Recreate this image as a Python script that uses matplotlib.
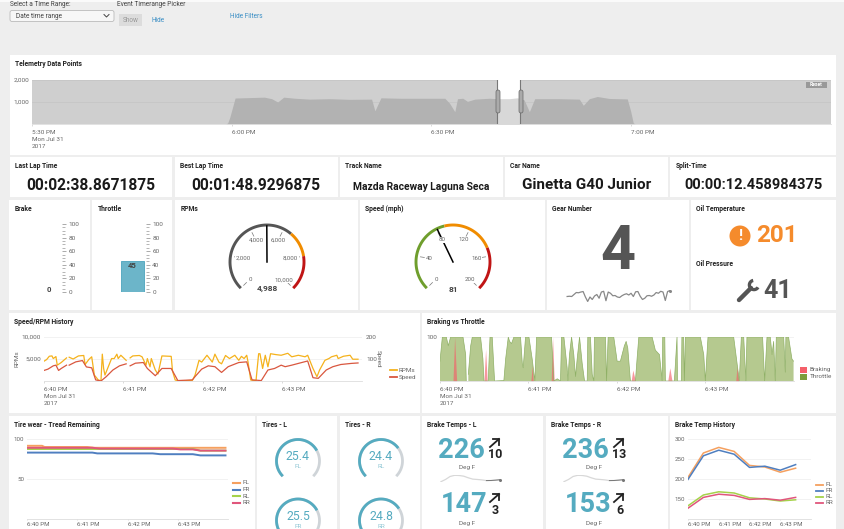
import numpy as np
import matplotlib
matplotlib.use('Agg')
import matplotlib.pyplot as plt
from matplotlib.patches import Rectangle, FancyBboxPatch, Circle

# Constants
W, H = 845, 529
BG = '#eeeeee'
TEAL = '#55abc0'
GREY_TXT = '#666666'
plt.rcParams['font.family'] = ['Roboto', 'DejaVu Sans']

# Telemetry data points (minutes after 5:30 PM)
tele_min = [0, 29.1, 29.4, 29.7, 30.5, 32.7, 34.9, 36, 36.9, 37.8, 39.5, 41.7, 44.7, 47.7, 51, 51.5, 52.4,
            55.2, 59, 60, 62, 62.7, 63.5, 63.9, 64.7, 65.4, 66.5, 68.7, 69.9, 71.7, 72.9, 73.9, 74.7, 75.5,
            79.2, 82.2, 82.8, 83.7, 84.9, 86.7, 89.4, 89.9, 90.3, 90.6, 120]
tele_val = [0, 0, 50, 300, 1180, 1200, 1220, 1150, 1000, 1220, 1170, 1130, 1150, 1120, 1130, 600, 1190,
            1170, 1170, 1170, 1170, 950, 560, 1150, 1170, 1030, 1130, 1170, 1150, 1150, 1190, 1100, 560, 1150,
            1150, 1130, 850, 1150, 1250, 1160, 1140, 600, 50, 0, 0]

# Speed / RPM history (seconds after 6:40 PM, nan marks the gaps)
rpm_sec = [0, 2, 4, 6, 7, 9, 10, 13, 17, 18, 19, 22, 26, 30, 31, 34, 36, 38, 41, 43, 44, 45, 46, 48, 51, 53, 55,
           56, 58, 62, 63, 65, 67, 72, 74, 77, 78, 80, 81, 84, 86, 89, 96, 97, 99, 102, 112, 114, 117, 119, 123,
           127, 129, 132, 134, 137, 140, 144, 147, 149, 151, 153, 154, 156, 160, 162, 163, 165, 167, 169, 171,
           175, 179, 184, 187, 192, 197, 199, 203, 206, 208, 212, 215, 217, 221, 222, 226, 231, 233, 237]
rpm_val = [4500, 4875, 5625, 5700, 5100, 5550, 3600, 4200, 5250, np.nan, 5400, 5000, 5700, 5800, 3750, 4950, 5500,
           1350, 225, 75, 6100, 2850, 1350, 2850, 5100, 5100, 6100, 5100, 5850, 4700, np.nan, 5250, 5700, 5800,
           5500, 3600, 5100, 3225, 5100, 2500, 1575, 5700, 5600, 2250, 225, 0, 150, 1350, 4700, 4300, 5850, 4300,
           6100, 4300, 3900, 5800, 5100, 5850, 4700, 5600, 5100, 5850, 4300, 225, 75, 6200, 6200, 2850, 5850, 3225,
           6200, 6000, 5850, 6300, 5500, 5850, 5500, 5850, 2850, 975, 2500, 4700, 5100, 5500, 5850, 5100, 5625,
           5850, 4950, 4950]
speed_sec = [0, 3, 7, 9, 11, 13, 17, 18, 19, 24, 29, 32, 36, 39, 43, 47, 52, 57, 62, 63, 65, 69, 75, 78, 84, 89, 96,
             101, 112, 114, 119, 124, 129, 134, 139, 147, 153, 157, 164, 169, 174, 179, 182, 187, 192, 199, 203,
             207, 213, 218, 224, 232, 237]
speed_val = [48, 54, 69, 72, 48, 57, 72, np.nan, 72, 87, 93, 64, 60, 5, 0, 20, 50, 69, 78, np.nan, 69, 81, 84, 57,
             24, 57, 57, 2, 5, 20, 54, 69, 65, 39, 65, 84, 87, 5, 2, 50, 57, 72, 65, 72, 80, 91, 15, 12, 50, 65,
             75, 80, 82]

# Braking vs throttle (seconds after 6:40 PM, nan marks the gaps)
thr_sec = [0, 1.6, 4.3, 5.6, 7.2, 11, 15.6, 17.4, 17.8, 18, 19.2, 20.8, 21.9, 27.5, 29.1, 29.8, 32.7, 33.9, 35.4, 37,
           43.3, 44.5, 46.3, 47.2, 48.5, 50.1, 54.6, 55.8, 56.4, 58, 60.3, 62.5, 64.3, 65.5, 75.6, 77.2, 79.5, 81.7,
           82.4, 84, 86.2, 86.7, 87.8, 89.2, 90.7, 91.9, 93, 94.6, 96.4, 98, 99.8, 100.2, 102, 103.2, 104.3, 104.7,
           112.2, 112.9, 114, 117.8, 120.1, 122.3, 125, 126.2, 127.3, 129.1, 132.5, 133.6, 134.8, 143.8, 146, 148.8,
           150.6, 151, 152.4, 152.8, 158.5, 158.9, 160.7, 161, 163.7, 164, 165.2, 165.7, 166.4, 176.5, 178.8, 179.9,
           181.7, 199.1, 201.4, 202.9, 204.3, 205.9, 207.4, 208.1, 218.7, 220.1, 221.7, 223.9, 225.1, 226.2, 227.3,
           228, 233, 234.1, 234.5, 236.3, 238.6, 239.7]
thr_val = [45, 100, 100, 80, 100, 100, 100, 60, 0, np.nan, 15, 80, 100, 100, 50, 0, 0, 100, 100, 0,
           1, 50, 100, 90, 85, 100, 100, 40, 30, 100, 100, 50, 0, 100, 100, 0, 5, 0,
           100, 100, 30, 0, 60, 100, 60, 10, 50, 100, 40, 0, 0, 100, 100, 15, 0, 100,
           100, 0, 100, 100, 45, 45, 80, 90, 75, 0, 0, 50, 100, 100, 70, 60,
           0, 100, 100, 0, 0, 0, 100, 0, 0, 100, 100, 0, 100, 100, 60, 0,
           100, 100, 40, 0, 100, 100, 0, 100, 100, 0, 100, 100, 60, 90, 0,
           100, 100, 20, 100, 100, 50, 45]
brk_sec = [8.8, 9.9, 11.3, 29.8, 30.9, 32, 61.6, 62.5, 63.2, 75.4, 76.3, 77.4,
           129.6, 130.7, 132.5, 154.4, 155.8, 157.3, 200.5, 201.4, 202.5]
brk_val = [0, 100, 0, 0, 72, 0, 0, 35, 0, 0, 100, 0, 0, 25, 0, 0, 30, 0, 0, 35, 0]

# Tire wear (minutes after 6:40 PM)
fl_min = [0, 0.3, 0.35, 1.2, 1.35, 2.6, 3.95]
fl_val = [91.5, 91.5, 90, 90, 89, 89, 89]
fr_min = [0, 1.3, 1.4, 2.5, 2.65, 3.3, 3.45, 3.95]
fr_val = [83, 83, 82, 82, 81, 81, 79.5, 79.5]
rl_min = [0, 3.3, 3.45, 3.95]
rl_val = [87.5, 87.5, 85.5, 85.5]
rr_min = [0, 1.3, 1.45, 2.9, 3.05, 3.3, 3.45, 3.95]
rr_val = [89, 89, 88, 88, 87, 87, 85.5, 85.5]
TIRE_COLORS = ['#f5a05f', '#4f7fc0', '#a5d24a', '#e0567c']
TIRE_NAMES = ['FL', 'FR', 'RL', 'RR']

# Brake temp history (half minute steps after 6:40 PM)
temp_min = [0, 0.5, 1, 1.5, 2, 2.5, 3, 3.5]
temp_fl = [204, 265, 279, 269, 234, 230, 217, 227]
temp_fr = [199, 258, 272, 262, 229, 232, 222, 236]
temp_rl = [133, 160, 168, 165, 153, 150, 145, 148]
temp_rr = [127, 154, 162, 159, 149, 151, 147, 154]

# Sparklines
gear_spark = [3.2, 3.3, 3.2, 4, 4.8, 4.7, 5, 5.2, 3, 1.2, 3, 2, 3.4, 4, 2.5, 5, 5.3, 1.5, 5, 4.5, 3.5, 3.6, 3, 2.8,
              3.5, 4, 4.3, 3.8, 4.5, 3.2, 5.1, 5.2, 3.3, 2, 2.5, 3.5, 3.6, 3.3, 3.8, 4.8, 4.5, 5.3, 5, 1.6, 5.2, 5.6]
brake_spark = [204, 230, 265, 279, 277, 269, 250, 234, 230, 225, 217, 218, 222, 227]

# Single values
brake_value = 0
throttle_value = 45
rpm_value = 4988
speed_value = 81
gear_value = 4
oil_temp = 201
oil_pressure = 41
tire_values = [25.4, 25.5, 24.4, 24.8]
tire_labels = ['FL', 'FR', 'RL', 'RR']
brake_l = [226, 147]
brake_l_delta = [10, 3]
brake_r = [236, 153]
brake_r_delta = [13, 6]

# Panels as (left, top, right, bottom, title)
PANELS = [
    (10, 55, 836, 155, 'Telemetry Data Points'),
    (10, 157, 172, 197, 'Last Lap Time'), (175, 157, 338, 197, 'Best Lap Time'),
    (340, 157, 503, 197, 'Track Name'), (505, 157, 668, 197, 'Car Name'), (670, 157, 836, 197, 'Split-Time'),
    (9, 200, 90, 310, 'Brake'), (92, 200, 172, 310, 'Throttle'), (175, 200, 358, 310, 'RPMs'),
    (360, 200, 545, 310, 'Speed (mph)'), (547, 200, 689, 310, 'Gear Number'), (691, 200, 836, 310, 'Oil Temperature'),
    (9, 313, 420, 413, 'Speed/RPM History'), (422, 313, 836, 413, 'Braking vs Throttle'),
    (9, 416, 255, 529, 'Tire wear - Tread Remaining'), (257, 416, 337, 529, 'Tires - L'),
    (340, 416, 420, 529, 'Tires - R'), (422, 416, 543, 529, 'Brake Temps - L'),
    (546, 416, 668, 529, 'Brake Temps - R'), (670, 416, 836, 529, 'Brake Temp History'),
]


def px_axes(fig, left, top, right, bottom, **kw):
    # axes placed by pixel box, y measured from the top of the picture
    ax = fig.add_axes([left / W, 1 - bottom / H, (right - left) / W, (bottom - top) / H], **kw)
    ax.patch.set_alpha(0)
    for s in ax.spines.values():
        s.set_visible(False)
    return ax


def style_time_axis(ax, ticks, labels, size=4.6):
    ax.set_xticks(ticks, labels, ha='left', linespacing=1.45)
    ax.tick_params(axis='x', length=1.5, width=0.5, color='#cccccc', labelsize=size, labelcolor=GREY_TXT, pad=3)
    ax.tick_params(axis='y', length=0, labelsize=size, labelcolor=GREY_TXT, pad=2)
    ax.spines['bottom'].set_visible(True)
    ax.spines['bottom'].set_color('#dddddd')
    ax.spines['bottom'].set_linewidth(0.6)
    ax.grid(axis='y', color='#f2f2f2', lw=0.7)
    ax.set_axisbelow(True)


def arc(ax, cx, cy, r, a0, a1, **kw):
    t = np.radians(np.linspace(a0, a1, 60))
    ax.plot(cx + r * np.cos(t), cy - r * np.sin(t), solid_capstyle='butt', **kw)


def draw_gauge(ax, cx, cy, vmax, bands, ticks, value, label_fmt='{:,}'):
    angle = lambda v: 225 - 270 * v / vmax
    r = 37
    for lo, hi, col in bands:
        arc(ax, cx, cy, r, angle(lo), angle(hi), color=col, lw=2.1)
    for t in ticks:
        a = np.radians(angle(t))
        ax.plot([cx + 29 * np.cos(a), cx + 33 * np.cos(a)], [cy - 29 * np.sin(a), cy - 33 * np.sin(a)],
                color='#777777', lw=0.5)
        ax.text(cx + 24 * np.cos(a), cy - 25 * np.sin(a), label_fmt.format(t), fontsize=4.4, color=GREY_TXT,
                ha='center', va='center', bbox=dict(fc='white', ec='none', pad=0.3))
    a = np.radians(angle(value))
    ax.plot([cx, cx + 36 * np.cos(a)], [cy, cy - 36 * np.sin(a)], color='black', lw=1.1)
    ax.text(cx, cy + 27, f'{value:,}', fontsize=6, fontweight='bold', color='#444444', ha='center', va='center')


def draw_tire(ax, cx, cy, value, label):
    r = 21.5
    arc(ax, cx, cy, r, 225, -45, color='#cfd4d8', lw=2)
    arc(ax, cx, cy, r, 225, 225 - 270 * value / 35, color=TEAL, lw=2)
    ax.text(cx, cy - 4, f'{value}', fontsize=8.8, color=TEAL, ha='center', va='center')
    ax.text(cx, cy + 6, label, fontsize=4.6, color='#8fc6d4', ha='center', va='center')


def draw_brake_value(ax, cx, cy, value, delta, arrow_x, deg_x):
    ax.text(cx, cy + 1, f'{value}', fontsize=19.5, fontweight='bold', color=TEAL, ha='center', va='center')
    ax.plot([arrow_x - 5, arrow_x + 4], [cy - 2, cy - 10], color='#222222', lw=1.3)
    ax.plot([arrow_x - 2, arrow_x + 4, arrow_x + 4], [cy - 10, cy - 10, cy - 4], color='#222222', lw=1.3)
    ax.text(arrow_x + 0.5, cy + 6, f'{delta}', fontsize=9, fontweight='bold', color='#222222', ha='center',
            va='center')
    ax.text(deg_x, cy + 19, 'Deg F', fontsize=4.6, color=GREY_TXT, ha='center', va='center')


def draw_legend(ax, x0, x1, xt, ys, names, colors, lw=1.3):
    for y, name, col in zip(ys, names, colors):
        ax.plot([x0, x1], [y, y], color=col, lw=lw)
        ax.text(xt, y, name, fontsize=4.6, color=GREY_TXT, va='center')


def main():
    fig = plt.figure(figsize=(W / 100, H / 100), dpi=100, facecolor=BG)

    # background panels
    bg = px_axes(fig, 0, 0, W, H, zorder=0)
    bg.set_xlim(0, W)
    bg.set_ylim(H, 0)
    bg.axis('off')
    bg.add_patch(Rectangle((0, 0), W, 2, fc='#fafafa', ec='none'))
    for left, top, right, bottom, _ in PANELS:
        bg.add_patch(Rectangle((left, top), right - left, bottom - top, fc='white', ec='none'))

    # overlay for text and icons
    fg = px_axes(fig, 0, 0, W, H, zorder=10)
    fg.set_xlim(0, W)
    fg.set_ylim(H, 0)
    fg.axis('off')
    for left, top, right, bottom, title in PANELS:
        fg.text(left + 5.5, top + 9, title, fontsize=4.9, fontweight='bold', color='#222222', va='center')

    # filters
    fg.text(10, 4, 'Select a Time Range:', fontsize=4.7, color='#444444', va='center')
    fg.text(117, 4, 'Event Timerange Picker', fontsize=4.7, color='#444444', va='center')
    fg.add_patch(FancyBboxPatch((10, 10.5), 104, 11, boxstyle='round,pad=0,rounding_size=2', fc='#f7f7f7',
                                ec='#bbbbbb', lw=0.6))
    fg.text(16, 16, 'Date time range', fontsize=4.7, color='#444444', va='center')
    fg.plot([104, 106.5, 109], [14.5, 17, 14.5], color='#444444', lw=0.7)
    fg.add_patch(Rectangle((119, 14), 23, 12, fc='#dcdcdc', ec='none'))
    fg.text(130.5, 20, 'Show', fontsize=4.7, color='#999999', ha='center', va='center')
    fg.text(152, 20, 'Hide', fontsize=4.7, color='#3c8fc5', va='center')
    fg.text(230, 16, 'Hide Filters', fontsize=4.7, color='#3c8fc5', va='center')

    # telemetry overview
    ax = px_axes(fig, 32, 80, 831, 124, zorder=5)
    ax.patch.set_alpha(1)
    ax.set_facecolor('#cfcfcf')
    ax.fill_between(tele_min, tele_val, color='#b2b2b2', lw=0)
    ax.set_xlim(0, 120)
    ax.set_ylim(0, 2000)
    span = ax.axvspan(69.9, 73.3, color='white', zorder=3, lw=0)
    selected = ax.fill_between(tele_min, tele_val, color='#d8d8d8', lw=0, zorder=4)
    selected.set_clip_path(span)
    style_time_axis(ax, [0, 30, 60, 90], ['5:30 PM\nMon Jul 31\n2017', '6:00 PM', '6:30 PM', '7:00 PM'])
    ax.set_yticks([1000, 2000], ['1,000', '2,000'])
    ax.grid(axis='y', color='#c4c4c4', lw=0.5)
    for x in [69.9, 73.3]:
        ax.axvline(x, color='#777777', lw=0.8, zorder=5)
    for x in [498, 521]:
        fg.add_patch(FancyBboxPatch((x - 2, 90), 4, 23, boxstyle='round,pad=0,rounding_size=2', fc='#aaaaaa',
                                    ec='#666666', lw=0.5))
    fg.add_patch(Rectangle((806, 82), 21, 6, fc='#999999', ec='none'))
    fg.text(816.5, 85, 'Reset', fontsize=3.6, color='white', fontweight='bold', ha='center', va='center')

    # big text row
    for x, y, txt, size in [(90.5, 185, '00:02:38.8671875', 11.2), (256, 185, '00:01:48.9296875', 11.2),
                            (421.5, 187, 'Mazda Raceway Laguna Seca', 7.4), (587, 185, 'Ginetta G40 Junior', 11),
                            (753.5, 185, '00:00:12.458984375', 10.5)]:
        fg.text(x, y, txt, fontsize=size, fontweight='bold', color='#1a1a1a', ha='center', va='center')

    # brake and throttle columns
    for left, value in [(37.6, brake_value), (121, throttle_value)]:
        ax = px_axes(fig, left, 224, left + 24.7, 292, zorder=5)
        ax.bar([0], [value], width=1, color='#6cb5c9', edgecolor='#4ba4bd', lw=0.6)
        ax.set_xlim(-0.5, 0.57)
        ax.set_ylim(0, 100)
        ax.set_xticks([])
        ax.yaxis.tick_right()
        ax.set_yticks(range(0, 101, 20))
        ax.set_yticks(range(0, 101, 5), minor=True)
        ax.tick_params(axis='y', which='major', length=3.2, width=0.5, color='#888888', labelsize=4.6,
                       labelcolor=GREY_TXT, pad=1.5)
        ax.tick_params(axis='y', which='minor', length=1.8, width=0.6, color='#aaaaaa')
        ax.text(0, value - 1, f'{value}', fontsize=5.6, fontweight='bold', color='#444444', ha='center',
                va='top' if value else 'bottom')

    # gauges
    draw_gauge(fg, 267, 262, 10000, [(0, 6500, '#555555'), (6500, 8000, '#f08c00'), (8000, 10000, '#c01515')],
               [0, 2000, 4000, 6000, 8000, 10000], rpm_value)
    draw_gauge(fg, 453, 262, 200, [(0, 90, '#6f9e2d'), (90, 150, '#f08c00'), (150, 200, '#c01515')],
               [0, 40, 80, 120, 160, 200], speed_value)

    # gear number with its sparkline
    fg.text(618, 252, f'{gear_value}', fontsize=44, fontweight='bold', color='#555555', ha='center', va='center')
    ax = px_axes(fig, 562, 290, 675, 302, zorder=5)
    ax.plot(gear_spark, color='#888888', lw=0.9)
    ax.plot(len(gear_spark) - 1, gear_spark[-1], 'o', color='#888888', ms=1.2)
    ax.set_xticks([])
    ax.set_yticks([])

    # oil
    fg.text(696.5, 264, 'Oil Pressure', fontsize=4.9, fontweight='bold', color='#222222', va='center')
    fg.add_patch(Circle((740, 236), 10.5, fc='#f58b2c', ec='none'))
    fg.text(740, 236, '!', fontsize=11, fontweight='bold', color='white', ha='center', va='center')
    fg.text(756, 236, f'{oil_temp}', fontsize=17.5, fontweight='bold', color='#f58b2c', va='center')
    fg.plot([739, 751], [300, 288], color='#555555', lw=3.2, solid_capstyle='round')
    arc(fg, 754, 285, 4.6, 100, 330, color='#555555', lw=2.4)
    fg.text(763, 291, f'{oil_pressure}', fontsize=18, fontweight='bold', color='#555555', va='center')

    # speed / rpm history
    ax = px_axes(fig, 44, 337, 362, 381, zorder=5)
    ax.plot(rpm_sec, rpm_val, color='#f5b21c', lw=0.9)
    ax.set_xlim(0, 240)
    ax.set_ylim(0, 10000)
    style_time_axis(ax, [0, 60, 120, 180], ['6:40 PM\nMon Jul 31\n2017', '6:41 PM', '6:42 PM', '6:43 PM'])
    ax.set_yticks([5000, 10000], ['5,000', '10,000'])
    ax.set_ylabel('RPMs', fontsize=4.6, color=GREY_TXT)
    ax.yaxis.set_label_coords(-0.078, 0.5)
    ax2 = ax.twinx()
    ax2.patch.set_alpha(0)
    for s in ax2.spines.values():
        s.set_visible(False)
    ax2.plot(speed_sec, speed_val, color='#d9573f', lw=0.9)
    ax2.set_ylim(0, 200)
    ax2.set_yticks([100, 200])
    ax2.tick_params(axis='y', length=0, labelsize=4.6, labelcolor=GREY_TXT, pad=3)
    ax2.set_ylabel('Speed', fontsize=4.6, color=GREY_TXT, rotation=270, labelpad=3)
    draw_legend(fg, 390, 397, 399, [370, 377], ['RPMs', 'Speed'], ['#f5b21c', '#d9573f'])

    # braking vs throttle
    ax = px_axes(fig, 440, 337, 794, 381, zorder=5)
    thr = np.array(thr_val, dtype=float)
    ax.fill_between(thr_sec, thr, color='#b5c98f', lw=0)
    ax.plot(thr_sec, thr, color='#8fb066', lw=0.5)
    ax.fill_between(brk_sec, brk_val, color='#f4606a', alpha=0.65, lw=0)
    ax.set_xlim(0, 240)
    ax.set_ylim(0, 100)
    style_time_axis(ax, [0, 60, 120, 180], ['6:40 PM\nMon Jul 31\n2017', '6:41 PM', '6:42 PM', '6:43 PM'])
    ax.set_yticks([100], ['100'])
    for y, name, col in [(370, 'Braking', '#f4606a'), (377, 'Throttle', '#7d9e3c')]:
        fg.add_patch(Rectangle((800, y - 3), 7, 6, fc=col, ec='none'))
        fg.text(810, y, name, fontsize=4.6, color=GREY_TXT, va='center')

    # tire wear
    ax = px_axes(fig, 27, 439, 228, 519, zorder=5)
    tire_series = [(fl_min, fl_val), (fr_min, fr_val), (rl_min, rl_val), (rr_min, rr_val)]
    for (xs, ys), col in zip(tire_series, TIRE_COLORS):
        ax.plot(xs, ys, color=col, lw=1.4)
    ax.set_xlim(0, 4)
    ax.set_ylim(0, 100)
    style_time_axis(ax, [0, 1, 2, 3], ['6:40 PM', '6:41 PM', '6:42 PM', '6:43 PM'], size=4.4)
    ax.tick_params(axis='x', length=1, pad=1.5)
    ax.set_yticks([50, 100])
    draw_legend(fg, 233, 240, 243, [483, 489.7, 496.4, 503], TIRE_NAMES, TIRE_COLORS, lw=1.5)

    # tire gauges
    draw_tire(fg, 298, 461, tire_values[0], tire_labels[0])
    draw_tire(fg, 298, 520.5, tire_values[1], tire_labels[1])
    draw_tire(fg, 381, 461, tire_values[2], tire_labels[2])
    draw_tire(fg, 381, 520.5, tire_values[3], tire_labels[3])

    # brake temps
    draw_brake_value(fg, 461, 449, brake_l[0], brake_l_delta[0], 495, 467)
    draw_brake_value(fg, 464, 504, brake_l[1], brake_l_delta[1], 495, 467)
    draw_brake_value(fg, 585, 449, brake_r[0], brake_r_delta[0], 619, 594)
    draw_brake_value(fg, 588, 504, brake_r[1], brake_r_delta[1], 619, 594)
    for left in [438, 561]:
        ax = px_axes(fig, left, 475, left + 65, 482, zorder=5)
        ax.plot(range(len(brake_spark)), brake_spark, color='#d8d8d8', lw=0.9)
        ax.plot(range(10, len(brake_spark)), brake_spark[10:], color='#777777', lw=0.7)
        ax.plot(len(brake_spark) - 1, brake_spark[-1], 'o', color='#777777', ms=1.2)
        ax.set_xticks([])
        ax.set_yticks([])

    # brake temp history
    ax = px_axes(fig, 688, 439, 811, 519, zorder=5)
    for ys, col in zip([temp_fl, temp_fr, temp_rl, temp_rr], TIRE_COLORS):
        ax.plot(temp_min, ys, color=col, lw=1.1)
    ax.set_xlim(0, 4)
    ax.set_ylim(100, 300)
    style_time_axis(ax, [0, 1, 2, 3], ['6:40 PM', '6:41 PM', '6:42 PM', '6:43 PM'], size=4.4)
    ax.tick_params(axis='x', length=1, pad=1.5)
    ax.set_yticks([150, 200, 250, 300])
    draw_legend(fg, 816, 823, 826, [485, 491, 497, 502.5], TIRE_NAMES, TIRE_COLORS)

    fig.savefig('out.png', dpi=100, facecolor=BG)


if __name__ == '__main__':
    main()
